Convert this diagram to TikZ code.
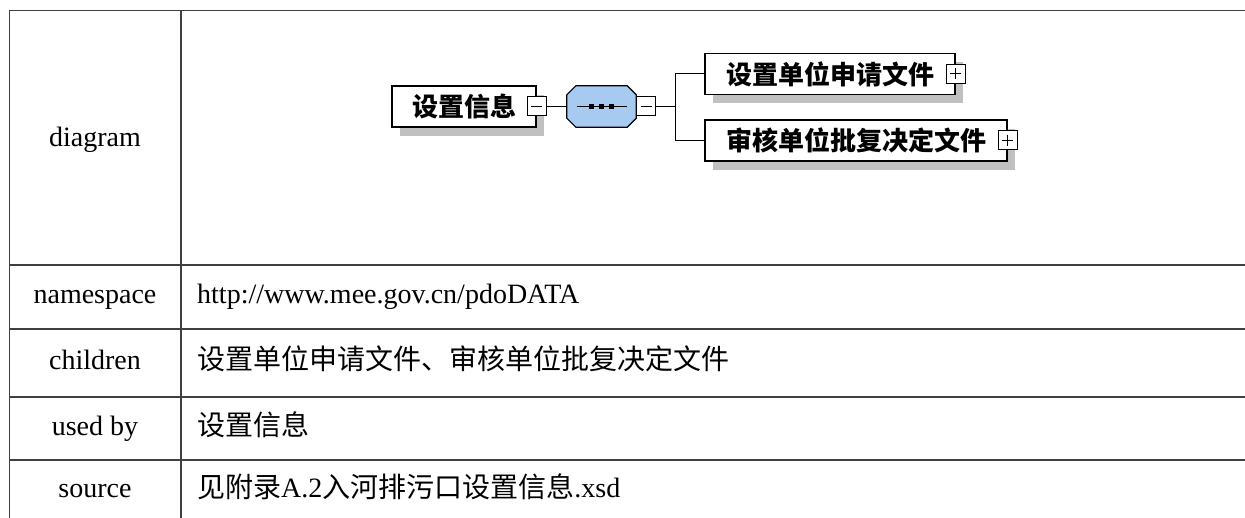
\documentclass[tikz,border=0pt]{standalone}
\usepackage{fontspec}
\setmainfont{Liberation Serif}
\newfontfamily\cjk{Noto Sans CJK SC}
\usetikzlibrary{positioning}
\usetikzlibrary{shadows}
\definecolor{seqblue}{RGB}{166,202,240}
\definecolor{shadegray}{RGB}{192,192,192}
\tikzset{%
  grid/.style = {line width=1.3pt,draw=black!75},
  wire/.style = {line width=1pt,draw=black},
  elem/.style = {rectangle,draw,fill=white,line width=1.2pt,
        minimum height=41pt,inner xsep=0pt,
        font=\cjk\bfseries\fontsize{26}{30}\selectfont,
        drop shadow={shadow xshift=8pt,shadow yshift=-9pt,
        fill=shadegray,opacity=1}},
  seq/.style = {rectangle,minimum width=69pt,minimum height=41pt,
        inner sep=0pt},
  octo/.style = {draw,fill=seqblue,line width=1.2pt},
  btn/.style = {rectangle,draw,fill=white,line width=1pt,
        minimum size=19pt,inner sep=0pt},
  minus/.style = {btn,path picture={\draw[line width=1pt]
        ([xshift=4pt]path picture bounding box.west) --
        ([xshift=-4pt]path picture bounding box.east);}},
  plus/.style = {btn,path picture={\draw[line width=1pt]
        ([xshift=4pt]path picture bounding box.west) --
        ([xshift=-4pt]path picture bounding box.east)
        ([yshift=-4pt]path picture bounding box.north) --
        ([yshift=4pt]path picture bounding box.south);}},
  key/.style = {font=\fontsize{28}{34}\selectfont,inner sep=0pt,
        text height=20pt,text depth=6pt},
  val/.style = {key,anchor=west}
}

\begin{document}
\begin{tikzpicture}[x=1pt,y=-1pt]
   \useasboundingbox (0,0) rectangle (1245,518);
   \fill[white] (0,0) rectangle (1245,518);

   \draw[grid] (9.5,10.5) -- (1245,10.5);
   \foreach \y in {265,329,397,460}
      \draw[grid] (9.5,\y) -- (1245,\y);
   \draw[grid] (9.5,10.5) -- (9.5,518);
   \draw[grid] (181,10.5) -- (181,518);

   \node[key] (kdiagram) at (95,140) {diagram};
   \node[key] (kns) at (95,297) {namespace};
   \node[key] (kchildren) at (95,363) {children};
   \node[key] (kused) at (95,428.5) {used by};
   \node[key] (ksource) at (95,490) {source};

   \node[val] (vns) at (197,297) {http://www.mee.gov.cn/pdoDATA};
   \node[val] (vchildren) at (197,363) {\cjk 设置单位申请文件、审核单位批复决定文件};
   \node[val] (vused) at (197,428.5) {\cjk 设置信息};
   \node[val] (vsource) at (197,490) {{\cjk 见附录}A.2{\cjk 入河排污口设置信息}.xsd};

   \node[elem,minimum width=144pt] (info) at (464,106.5) {设置信息};
   \node[minus] (infobtn) at (info.east) {};
   \node[seq] (grp) at (601.5,106.5) {};
   \fill[shadegray,shift={(8,9)}] ([xshift=9pt]grp.north west)
      -- ([xshift=-9pt]grp.north east) -- ([yshift=-9pt]grp.north east)
      -- ([yshift=9pt]grp.south east) -- ([xshift=-9pt]grp.south east)
      -- ([xshift=9pt]grp.south west) -- ([yshift=9pt]grp.south west)
      -- ([yshift=-9pt]grp.north west) -- cycle;
   \filldraw[octo] ([xshift=9pt]grp.north west)
      -- ([xshift=-9pt]grp.north east) -- ([yshift=-9pt]grp.north east)
      -- ([yshift=9pt]grp.south east) -- ([xshift=-9pt]grp.south east)
      -- ([xshift=9pt]grp.south west) -- ([yshift=9pt]grp.south west)
      -- ([yshift=-9pt]grp.north west) -- cycle;
   \node[minus,anchor=west] (grpbtn) at (grp.east) {};
   \coordinate[right=19pt of grpbtn] (fork);
   \node[elem,minimum width=250pt] (apply) at (830,74) {设置单位申请文件};
   \node[plus] (applybtn) at (apply.east) {};
   \node[elem,minimum width=302pt] (approve) at (856,140.5) {审核单位批复决定文件};
   \node[plus] (approvebtn) at (approve.east) {};

   \draw[wire] (infobtn.east) -- (grp.west);
   \draw[wire] ([xshift=10pt]grp.west) -- ([xshift=-9pt]grp.east);
   \foreach \dx in {-10,0,10}
      \fill ([xshift=\dx pt]grp.center) ++(-2.5,-2.5) rectangle ++(5,5);
   \draw[wire] (grpbtn.east) -- (fork);
   \draw[wire] (fork) |- (apply.west);
   \draw[wire] (fork) |- (approve.west);
\end{tikzpicture}
\end{document}
